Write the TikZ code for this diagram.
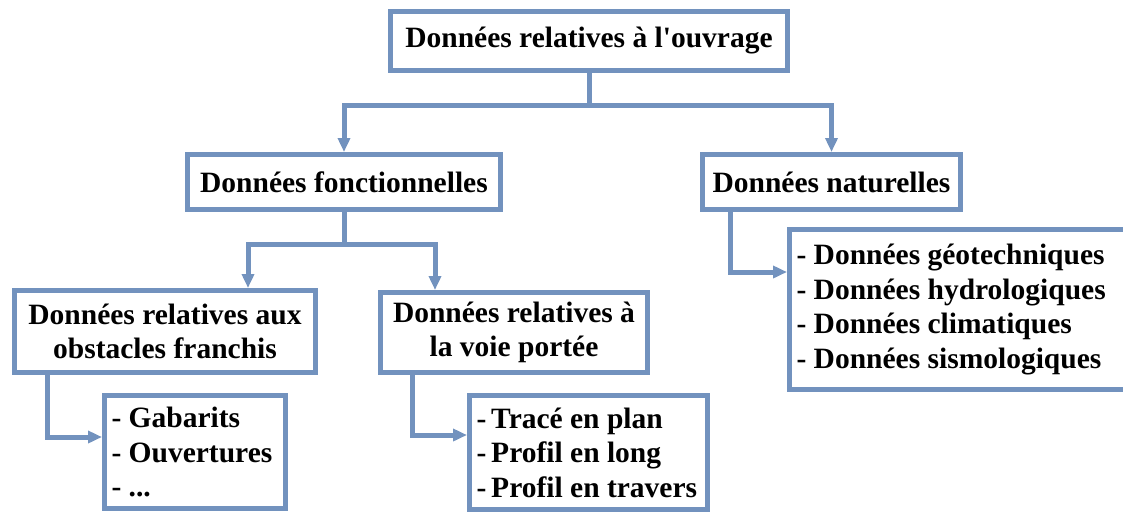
\documentclass[tikz,border=0pt]{standalone}
\usepackage{fontspec}
\setmainfont{Liberation Serif}
\usetikzlibrary{arrows.meta}
\definecolor{boxblue}{RGB}{114,146,190}

\begin{document}
\begin{tikzpicture}[x=1pt, y=-1pt, line width=5pt]
\tikzstyle{block}=[draw=boxblue,rectangle,fill=white,inner sep=0pt,font=\fontsize{29.5}{34.5}\selectfont\bfseries,align=center]
\tikzstyle{listblock}=[block,align=flush left,inner xsep=7pt]
\tikzstyle{link}=[draw=boxblue,line width=5pt]
\tikzstyle{arrow}=[link,-{Triangle[length=14pt,width=12pt]}]
  \useasboundingbox (0,0) rectangle (1123,512);
  % boxes
  \node[block,minimum width=397pt,minimum height=59pt] (top) at (589,41)
    {Données relatives à l\textquotesingle ouvrage};
  \node[block,minimum width=313pt,minimum height=55pt] (fonc) at (344,182)
    {Données fonctionnelles};
  \node[block,minimum width=258pt,minimum height=55pt] (nat) at (831.5,182)
    {Données naturelles};
  \node[block,minimum width=301pt,minimum height=82pt] (obst) at (165,331.5)
    {Données relatives aux\\obstacles franchis};
  \node[block,minimum width=267pt,minimum height=80pt] (voie) at (514,332.5)
    {Données relatives à\\la voie portée};
  \node[listblock,text width=167pt,minimum height=113pt] (gab) at (195,452)
    {- Gabarits\\- Ouvertures\\- ...};
  \node[listblock,text width=224pt,minimum height=114pt] (trace) at (588.5,452.5)
    {-\,Tracé~en~plan\\-\,Profil~en~long\\-\,Profil~en~travers};
  \node[listblock,text width=322pt,minimum height=160pt] (geo) at (957.5,309.5)
    {- Données~géotechniques\\- Données~hydrologiques\\- Données~climatiques\\- Données~sismologiques};
  % branches
  \draw[link] (top.south) -- ++(0,32) coordinate (split1);
  \draw[arrow] (split1) -| (fonc.north);
  \draw[arrow] (split1) -| (nat.north);
  \draw[link] (fonc.south) -- ++(0,32) coordinate (split2);
  \draw[arrow] (split2) -| ([xshift=83pt]obst.north);
  \draw[arrow] (split2) -| ([xshift=-79pt]voie.north);
  \foreach \source/\dest/\dx/\dy in {obst/gab/35.5/15,
                                     voie/trace/34.5/17.5,
                                     nat/geo/30.5/37.5}
    \draw[arrow] ([xshift=\dx pt]\source.south west) |- ([yshift=\dy pt]\dest.west);
\end{tikzpicture}
\end{document}
